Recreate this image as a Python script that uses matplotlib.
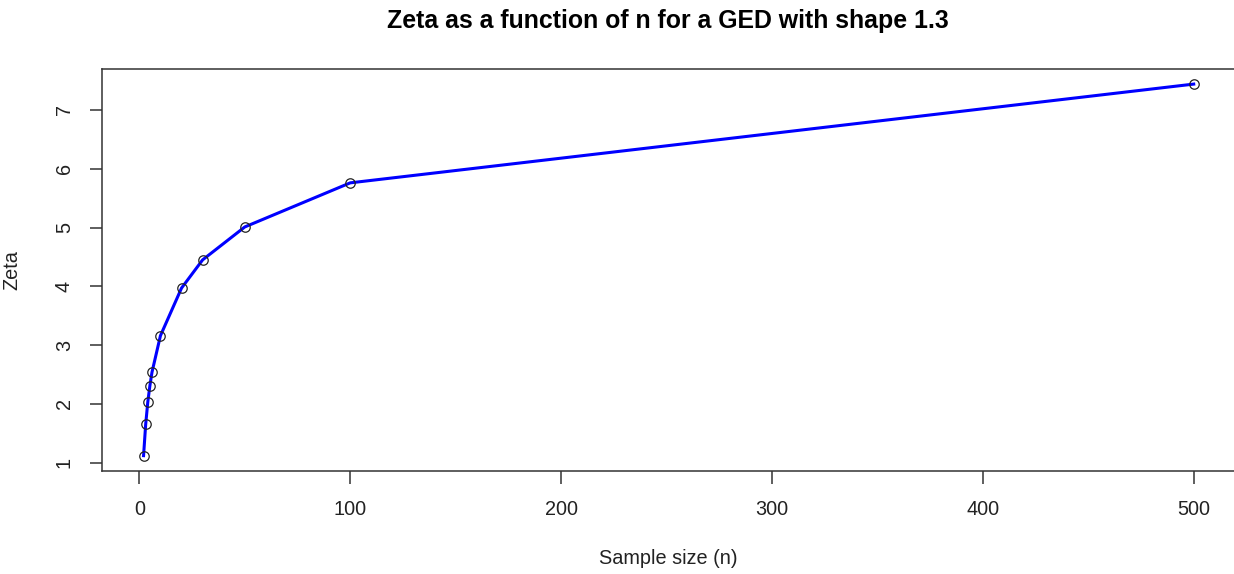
import matplotlib.pyplot as plt
import numpy as np

# Sample sizes and the zeta values
sample_size = [2, 3, 4, 5, 6, 10, 20, 30, 50, 100, 500]
zeta = [1.12, 1.65, 2.03, 2.31, 2.54, 3.16, 3.97, 4.45, 5.01, 5.76, 7.44]
x_ticks = [0, 100, 200, 300, 400, 500]
y_ticks = [1, 2, 3, 4, 5, 6, 7]

plt.rcParams['font.family'] = ['Liberation Sans', 'DejaVu Sans']

fig = plt.figure(figsize=(12.34, 5.74), dpi=100)
ax = fig.add_axes([0.0823, 0.1803, 0.9191, 0.6991])

ax.plot(sample_size, zeta, color='#0000ff', linewidth=2.2, zorder=2)
ax.plot(sample_size, zeta, 'o', markerfacecolor='none', markeredgecolor='#222222',
        markersize=6.8, markeredgewidth=0.9, zorder=3)

# R-like axis padding of 4%
xr = max(sample_size) - min(sample_size)
yr = max(zeta) - min(zeta)
ax.set_xlim(min(sample_size) - 0.04*xr, max(sample_size) + 0.04*xr)
ax.set_ylim(min(zeta) - 0.04*yr, max(zeta) + 0.04*yr)

ax.set_xticks(x_ticks)
ax.set_yticks(y_ticks)
ax.set_xticklabels([str(t) for t in x_ticks])
ax.set_yticklabels([str(t) for t in y_ticks], rotation=90, va='center')
ax.tick_params(axis='both', direction='out', length=9, width=1.1, colors='#333333',
               labelcolor='#222222', labelsize=14.3)
ax.tick_params(axis='x', pad=12)
ax.tick_params(axis='y', pad=11)

for s in ax.spines.values():
    s.set_color('#333333')
    s.set_linewidth(1.1)

ax.set_xlabel('Sample size (n)', fontsize=14.3, color='#222222', labelpad=22)
ax.set_ylabel('Zeta', fontsize=14.3, color='#222222', labelpad=24)
fig.text(0.5415, 0.963, 'Zeta as a function of n for a GED with shape 1.3',
         ha='center', va='center', fontsize=17.9, fontweight='bold')

fig.savefig('out.png', dpi=100)
